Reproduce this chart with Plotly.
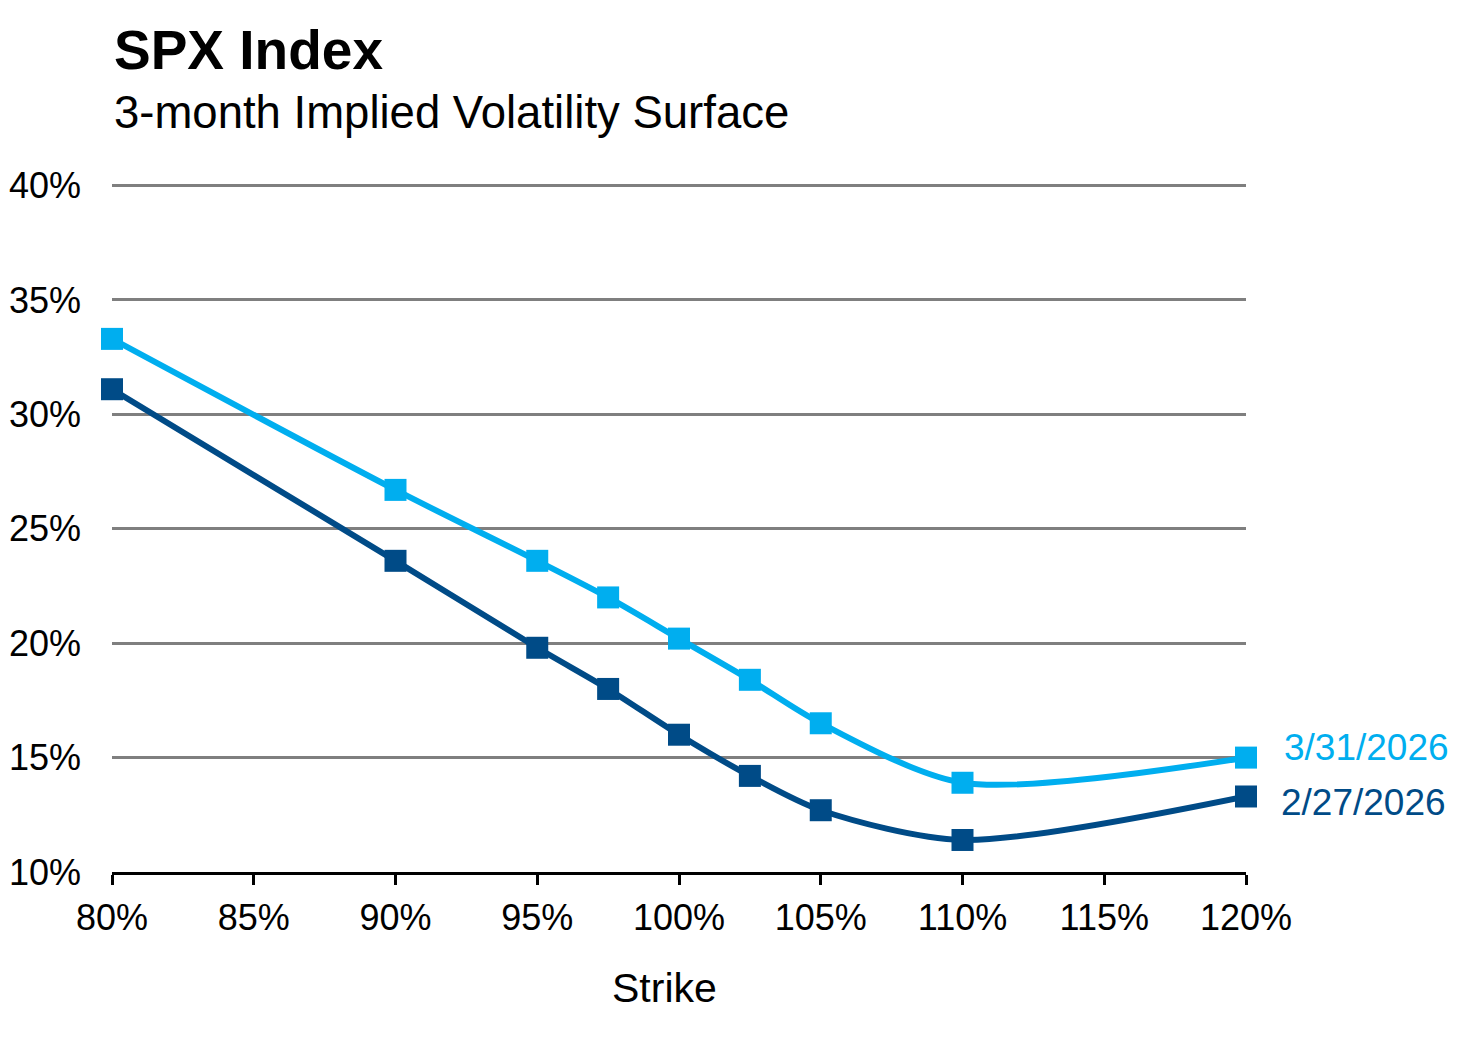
import plotly.graph_objects as go

strikes = [80, 90, 95, 97.5, 100, 102.5, 105, 110, 120]
vol_mar = [33.3, 26.7, 23.6, 22.0, 20.2, 18.4, 16.5, 13.9, 15.0]
vol_feb = [31.1, 23.6, 19.8, 18.0, 16.0, 14.2, 12.7, 11.4, 13.3]
series_names = ["3/31/2026", "2/27/2026"]
x_ticks = [80, 85, 90, 95, 100, 105, 110, 115, 120]
y_ticks = [10, 15, 20, 25, 30, 35, 40]

LIGHT = "#00AEEF"
DARK = "#004B87"
FONT = "Liberation Sans, Arial, sans-serif"

PH = 691  # plot height in px

fig = go.Figure()
for vals, name, col in [(vol_feb, series_names[1], DARK), (vol_mar, series_names[0], LIGHT)]:
    fig.add_trace(go.Scatter(
        x=strikes, y=vals, name=name, mode="lines+markers",
        line=dict(color=col, width=6, shape="spline", smoothing=0.8),
        marker=dict(symbol="square", size=22, color=col),
        showlegend=False, cliponaxis=False,
    ))

fig.update_layout(
    width=1471, height=1038,
    margin=dict(l=104, r=233, t=173, b=1038 - 173 - PH, autoexpand=False),
    paper_bgcolor="white", plot_bgcolor="white",
    font=dict(family=FONT, color="black", size=36),
    xaxis=dict(
        range=[80, 120], tickvals=x_ticks, ticktext=[f"{v}%" for v in x_ticks],
        showgrid=False, zeroline=False, showline=True, linecolor="black", linewidth=3,
        ticks="outside", ticklen=10, tickwidth=3, tickcolor="black", automargin=False,
        tickfont=dict(size=36, family=FONT), ticklabelstandoff=2,
    ),
    yaxis=dict(
        range=[10, 40.2], tickvals=y_ticks, ticktext=[f"{v}%" for v in y_ticks],
        showgrid=True, gridcolor="#7F7F7F", gridwidth=2.5, zeroline=False, showline=False,
        ticks="", tickfont=dict(size=36, family=FONT), ticklabelstandoff=30, automargin=False,
    ),
    annotations=[
        dict(text="<b>SPX Index</b>", xref="paper", yref="paper", x=0, y=1 + 131/PH,
             xanchor="left", yanchor="middle", showarrow=False,
             font=dict(size=55, family=FONT, color="black")),
        dict(text="3-month Implied Volatility Surface", xref="paper", yref="paper", x=0,
             y=1 + 69/PH, xanchor="left", yanchor="middle", showarrow=False,
             font=dict(size=45.5, family=FONT, color="black")),
        dict(text="Strike", xref="paper", yref="paper", x=(664-112)/1134, y=-116/PH,
             xanchor="center", yanchor="middle", showarrow=False,
             font=dict(size=41, family=FONT, color="black")),
        dict(text=series_names[0], x=strikes[-1], y=vol_mar[-1], xref="x", yref="y",
             xanchor="left", yanchor="middle", xshift=36, yshift=10, showarrow=False,
             font=dict(size=37, family=FONT, color=LIGHT)),
        dict(text=series_names[1], x=strikes[-1], y=vol_feb[-1], xref="x", yref="y",
             xanchor="left", yanchor="middle", xshift=33, yshift=-6, showarrow=False,
             font=dict(size=37, family=FONT, color=DARK)),
    ],
)

fig.write_html("out.html")
